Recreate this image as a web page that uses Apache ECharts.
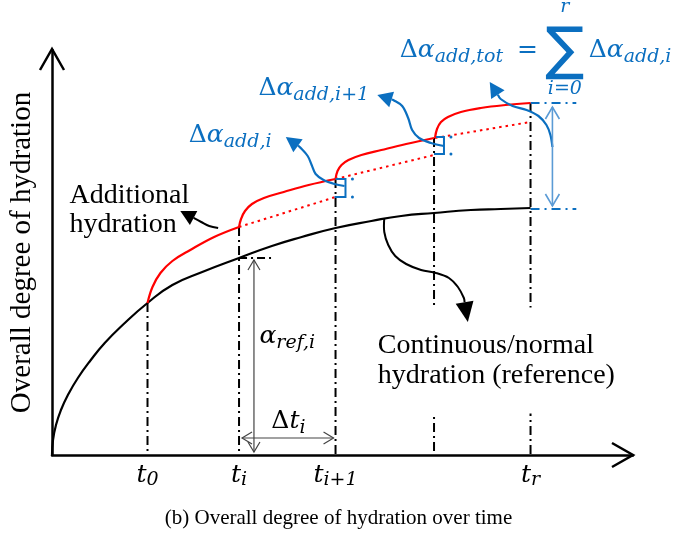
<!DOCTYPE html>
<html><head><meta charset="utf-8">
<script src="https://cdn.jsdelivr.net/npm/echarts@6/dist/echarts.min.js"></script>
<style>html,body{margin:0;padding:0;background:#fff}#c{width:677px;height:534px}</style>
</head><body><div id="c"></div>
<script>
// ---- schematic data (x = time, y = overall degree of hydration, arbitrary units) ----
const refCurve = [[0,0],[1,15],[4,30],[9,45],[16,60],[26,77],[39,95],[53,112],[71,130],[96,152],[121,170],[151,183],[188,197],[221,209],[251,218],[285,227],[321,234],[351,239],[384,242],[421,245],[451,246],[481,247]];
const addSeg0 = [[96,152],[101,168],[109,182],[121,194],[139,205],[163,218],[188,228]];
const addSeg1 = [[188,228],[190,236],[194,244],[201,251],[213,257],[233,263],[258,270],[285,276]];
const addSeg2 = [[285,276],[287,284],[291,290],[298,295],[311,300],[331,305],[356,311],[384,317]];
const addSeg3 = [[385,317],[387,326],[391,333],[398,338],[411,343],[431,347],[456,350],[481,352]];
const contLine0 = [[188,228],[285,258]];
const contLine1 = [[285,276],[384,300]];
const contLine2 = [[385,317],[481,333]];
const stepTimes = [96,188,285,384,481];
const stepTops  = [152,228,276,317,352];
const refLevelDash = [[188,197],[223,197]];
const totTop = [[481,352],[527,352]];
const totBottom = [[481,246],[527,246]];
const bracket0 = [[285,276],[295,276],[295,258],[284,258]];
const bracket1 = [[386,318],[394,318],[394,301],[384,301]];
const bracketDots = [[302,276],[302,258],[401,318],[401,301]];
const blueArrowPaths = [
  [[294,269],[284,271],[273,275],[265,281],[261,290],[257,299],[249,308],[235,318]],
  [[394,309],[381,312],[369,317],[362,325],[358,337],[352,349],[343,355],[327,360]],
  [[503,308],[501,320],[497,330],[489,339],[477,345],[463,349],[451,356],[440,373]]
];
const addArrowPath = [[[167,227],[158,229],[150,233],[129,244]]];
const refArrowPath = [[[334,237],[334,223],[338,210],[345,199],[356,191],[371,185],[386,182],[399,177],[408,168],[414,157],[418,133]]];
const grayDoubleArrows = [[[203,195],[203,3]],[[191,17],[283,17]]];
const blueDoubleArrows = [[[503,348],[503,249]]];
const axisEnds = [[[0,0],[584,0]],[[0,0],[0,406]]];
const tickValues = [96,188,285,481];
const tickLabels = ['{t|t}{s|0}','{t|t}{s|i}','{t|t}{s|i+1}','{t|t}{s|r}'];
const blueLabelPos = [[138,319],[208,366],[350,404],[540,404]];
const blueLabelText = ['{D|Δ}{a|α}{s|add,i}','{D|Δ}{a|α}{s|add,i+1}','{D|Δ}{a|α}{s|add,tot}{e| =}','{D|Δ}{a|α}{s|add,i}'];
const sumPos = [[516,402],[516,447],[516,365]];
const sumText = ['{S|∑}','{l|r}','{l|i=0}'];
const blackMathPos = [[209,118],[221,33]];
const blackMathText = ['{a|α}{s|ref,i}','{D|Δ}{a|t}{s|i}'];
const notePos = [[18,244]];
const noteText = ['Additional\nhydration'];
const refNotePos = [[323,94]];
const refNoteText = ['Continuous/normal\nhydration (reference)'];
const yTitle = 'Overall degree of hydration';
const caption = '(b) Overall degree of hydration over time';

// ---- styles ----
const BLUE = '#0B6FC0', RED = '#FF0000', LBLUE = '#5B9BD5';
const MATH = 'DejaVu Serif';
const SERIF = 'Liberation Serif';
const mathRich = (color, big, small, lh) => ({
  D:{fontFamily:MATH, fontSize:big, color, lineHeight:lh, verticalAlign:'middle'},
  a:{fontFamily:MATH, fontStyle:'italic', fontSize:big, color, lineHeight:lh, verticalAlign:'middle'},
  e:{fontFamily:MATH, fontSize:big, color, lineHeight:lh, verticalAlign:'middle', padding:[0,0,0,6]},
  s:{fontFamily:MATH, fontStyle:'italic', fontSize:small, color, lineHeight:small+1, verticalAlign:'bottom'}
});

function lineS(data, color, width, type, z, smooth) {
  return {type:'line', data, symbol:'none', smooth: smooth||false, clip:false, silent:true, z,
    lineStyle:{color, width, type: type||'solid', cap:'butt', join:'miter'}, emphasis:{disabled:true}};
}
function textS(pos, texts, align, labelExtra, z) {
  return {type:'scatter', symbolSize:1, itemStyle:{color:'rgba(0,0,0,0)', opacity:1}, clip:false, silent:true, z,
    data: pos.map((p,i)=>({value:p, label:{formatter:texts[i]}})),
    label: Object.assign({show:true, position:[0,0], align, verticalAlign:'middle', opacity:1}, labelExtra),
    emphasis:{disabled:true}};
}
function curvedArrow(paths, color, width, headLen, headHalf, z) {
  return {type:'custom', coordinateSystem:'cartesian2d', clip:false, silent:true, z,
    data: paths.map((p,i)=>[p[p.length-1][0], p[p.length-1][1], i]),
    renderItem(params, api) {
      const pts = paths[params.dataIndex].map(p=>api.coord(p));
      const n = pts.length, tip = pts[n-1], prev = pts[n-2];
      let dx = tip[0]-prev[0], dy = tip[1]-prev[1]; const L = Math.hypot(dx,dy)||1; dx/=L; dy/=L;
      const base = [tip[0]-dx*headLen, tip[1]-dy*headLen];
      const line = pts.slice(0,n-1).concat([base]);
      return {type:'group', children:[
        {type:'polyline', shape:{points:line, smooth:0.35}, style:{stroke:color, lineWidth:width, fill:null}},
        {type:'polygon', shape:{points:[tip,[base[0]-dy*headHalf, base[1]+dx*headHalf],[base[0]+dy*headHalf, base[1]-dx*headHalf]]}, style:{fill:color}}
      ]};
    }};
}
function chevronArrow(segs, color, width, arm, half, both, drawLine, z) {
  return {type:'custom', coordinateSystem:'cartesian2d', clip:false, silent:true, z,
    data: segs.map((s,i)=>[s[1][0], s[1][1], i]),
    renderItem(params, api) {
      const s = segs[params.dataIndex];
      const a = api.coord(s[0]), b = api.coord(s[1]);
      let dx = b[0]-a[0], dy = b[1]-a[1]; const L = Math.hypot(dx,dy)||1; dx/=L; dy/=L;
      const head = (t, sx, sy) => [[t[0]-sx*arm-sy*half, t[1]-sy*arm+sx*half], t, [t[0]-sx*arm+sy*half, t[1]-sy*arm-sx*half]];
      const st = {stroke:color, lineWidth:width, fill:null, lineJoin:'miter'};
      const ch = [{type:'polyline', shape:{points:head(b,dx,dy)}, style:st}];
      if (both) ch.push({type:'polyline', shape:{points:head(a,-dx,-dy)}, style:st});
      if (drawLine) ch.push({type:'line', shape:{x1:a[0],y1:a[1],x2:b[0],y2:b[1]}, style:st});
      return {type:'group', children:ch};
    }};
}

const series = [];
series.push(lineS(refCurve, '#000', 2.2, 'solid', 6, 0.5));
[addSeg0, addSeg1, addSeg2, addSeg3].forEach(s=>series.push(lineS(s, RED, 2.2, 'solid', 6, 0.4)));
[contLine0, contLine1, contLine2].forEach(s=>series.push(lineS(s, RED, 2, [2.5,4], 5)));
stepTimes.forEach((t,i)=>series.push(lineS([[t, stepTops[i]],[t,0]], '#000', 2, [9,4,2,4], 2)));
series.push(lineS(refLevelDash, '#000', 1.8, [8,4,2,4], 2));
series.push(lineS(totTop, BLUE, 2, [9,5,2,5], 2));
series.push(lineS(totBottom, BLUE, 2, [9,5,2,5], 2));
series.push(lineS(bracket0, BLUE, 2, 'solid', 7));
series.push(lineS(bracket1, BLUE, 2, 'solid', 7));
series.push({type:'scatter', data:bracketDots, symbolSize:3, itemStyle:{color:BLUE, opacity:1}, silent:true, z:7});
series.push(curvedArrow(blueArrowPaths, BLUE, 2.2, 15, 8, 8));
series.push(curvedArrow(addArrowPath, '#000', 2, 15, 8, 8));
series.push(curvedArrow(refArrowPath, '#000', 2, 20, 9, 8));
series.push(chevronArrow(grayDoubleArrows, '#444', 1.2, 10, 6, true, true, 8));
series.push(chevronArrow(blueDoubleArrows, LBLUE, 1.6, 12, 7, true, true, 8));
series.push(chevronArrow(axisEnds, '#000', 2.5, 21, 12, false, false, 8));
series.push(textS(blueLabelPos, blueLabelText, 'left', {rich: mathRich(BLUE, 25, 19, 32)}, 9));
series.push(textS(sumPos, sumText, 'center', {rich:{S:{fontFamily:'DejaVu Sans', fontSize:58, color:BLUE}, l:{fontFamily:MATH, fontStyle:'italic', fontSize:19, color:BLUE}}}, 9));
series.push(textS(blackMathPos, blackMathText, 'left', {rich: mathRich('#000', 25, 19, 32)}, 9));
series.push(textS(notePos, noteText, 'left', {fontFamily:SERIF, fontSize:28, lineHeight:29, color:'#000'}, 9));
series.push(textS(refNotePos, refNoteText, 'left', {fontFamily:SERIF, fontSize:28, lineHeight:30, color:'#000', backgroundColor:'#fff', padding:[30,6,16,5]}, 4));

const option = {
  animation:false,
  backgroundColor:'#fff',
  title:{text:caption, left:'center', top:503, textStyle:{fontFamily:SERIF, fontSize:21, fontWeight:'normal', color:'#000'}},
  grid:{left:49, right:44, top:50, bottom:79, containLabel:false},
  xAxis:{type:'value', min:0, max:584, splitLine:{show:false}, axisTick:{show:false},
    axisLine:{show:true, onZero:false, lineStyle:{color:'#000', width:2.5}},
    axisLabel:{show:true, customValues:tickValues, margin:5, color:'#000',
      formatter:v=>tickLabels[tickValues.indexOf(v)] || '',
      rich:{t:{fontFamily:MATH, fontStyle:'italic', fontSize:25, color:'#000', lineHeight:30, verticalAlign:'middle'},
            s:{fontFamily:MATH, fontStyle:'italic', fontSize:19, color:'#000', lineHeight:20, verticalAlign:'bottom'}}}},
  yAxis:{type:'value', min:0, max:405, splitLine:{show:false}, axisTick:{show:false}, axisLabel:{show:false},
    axisLine:{show:true, onZero:false, lineStyle:{color:'#000', width:2.5}},
    name:yTitle, nameLocation:'middle', nameRotate:90, nameGap:15,
    nameTextStyle:{fontFamily:SERIF, fontSize:29, color:'#000'}},
  series
};
const chart = echarts.init(document.getElementById('c'), null, {renderer:'canvas'});
chart.setOption(option);
</script></body></html>
